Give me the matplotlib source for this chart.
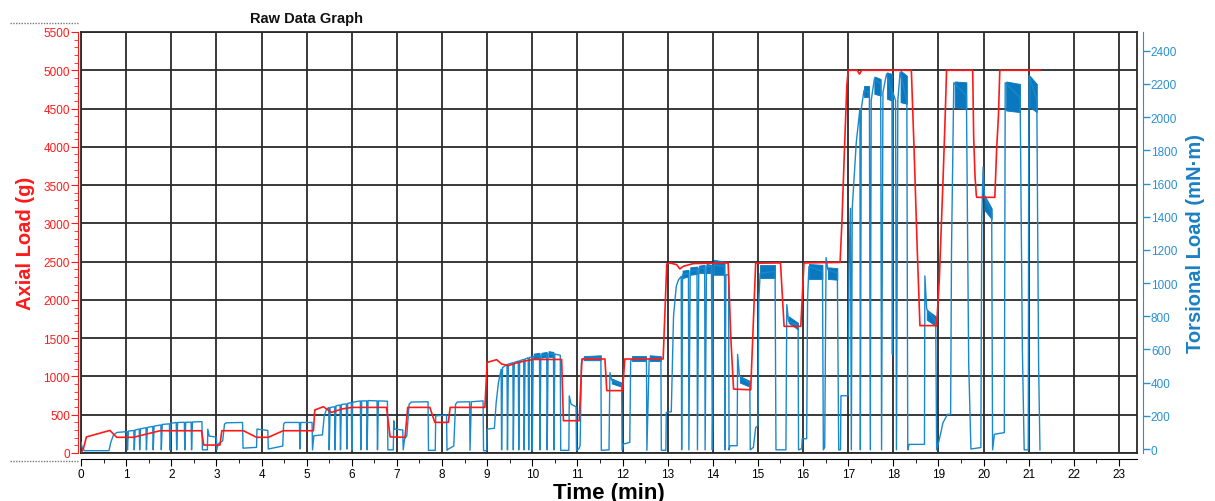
import matplotlib
matplotlib.use("Agg")
import matplotlib.pyplot as plt
from matplotlib.lines import Line2D
from matplotlib.ticker import MultipleLocator

plt.rcParams["font.family"] = ["Liberation Sans", "DejaVu Sans"]

# Axial load (g) against time (min)
axial = [
    (0.00, 0), (0.05, 50), (0.12, 210), (0.64, 295), (0.79, 205), (1.16, 205),
    (1.75, 291), (2.67, 291), (2.72, 104), (3.08, 104), (3.12, 291), (3.60, 291),
    (3.89, 205), (4.15, 205), (4.48, 291), (5.15, 291), (5.18, 562), (5.37, 605),
    (5.55, 530), (5.78, 575), (6.00, 596), (6.77, 596), (6.85, 210), (7.18, 205),
    (7.24, 596), (7.73, 596), (7.84, 400), (8.14, 400), (8.18, 596), (8.95, 596),
    (9.00, 1184), (9.21, 1219), (9.32, 1163), (9.47, 1141), (9.65, 1176), (9.80, 1198),
    (10.02, 1222), (10.65, 1222), (10.69, 422), (11.04, 422), (11.10, 1228),
    (11.61, 1228), (11.65, 815), (12.00, 815), (12.05, 1228), (12.90, 1228),
    (12.98, 2470), (13.05, 2483), (13.20, 2460), (13.27, 2405), (13.35, 2440),
    (13.57, 2475), (14.34, 2483), (14.40, 1500), (14.46, 835), (14.84, 826),
    (14.95, 2480), (15.50, 2483), (15.58, 1655), (15.95, 1655), (16.02, 2483),
    (16.82, 2490), (16.86, 3000), (16.92, 4000), (16.97, 4800), (17.00, 5000),
    (17.20, 5000), (17.25, 4950), (17.30, 5000), (18.40, 5000), (18.46, 3972),
    (18.53, 2666), (18.59, 1664), (18.96, 1664), (19.02, 2274), (19.10, 3537),
    (19.15, 4408), (19.18, 5000), (19.76, 5000), (19.78, 4146), (19.81, 3623),
    (19.84, 3362), (19.85, 3340), (20.25, 3340), (20.29, 3972), (20.33, 4408),
    (20.36, 5000), (21.25, 5000),
]

# Torsional load (mN·m) against time (min), in pieces
torque_0_5 = [
    (0.00, 40), (0.03, 5), (0.08, -10), (0.62, -10), (0.66, 40), (0.72, 85), (0.80, 100),
    (1.02, 105), (1.03, -5), (1.05, 108), (1.17, 112), (1.18, -5), (1.20, 115),
    (1.29, 120), (1.30, -5), (1.32, 122), (1.44, 128), (1.45, -5), (1.47, 130),
    (1.59, 136), (1.60, -5), (1.62, 138), (1.77, 145), (1.78, -5), (1.80, 148),
    (1.96, 152), (1.97, -5), (1.99, 155), (2.11, 160), (2.12, -5), (2.14, 160),
    (2.29, 161), (2.30, -5), (2.32, 161), (2.44, 162), (2.45, -5), (2.47, 163),
    (2.68, 165), (2.69, -5), (2.80, -5), (2.81, 120), (2.84, 78), (3.00, 72),
    (3.01, -5), (3.04, 30), (3.14, 50), (3.18, 150), (3.22, 158), (3.58, 160),
    (3.59, 5), (3.89, 10), (3.90, 120), (4.14, 112), (4.15, 0), (4.47, 18),
    (4.49, 150), (4.52, 160), (4.84, 160), (4.85, 0), (4.87, 160), (5.12, 160),
    (5.13, -5),
]
torque_5_9 = [
    (5.16, 80), (5.35, 85), (5.39, 200), (5.44, 240), (5.49, 250), (5.50, -5), (5.52, 250),
    (5.62, 255), (5.63, -5), (5.65, 260), (5.74, 265), (5.75, -5), (5.77, 268),
    (5.88, 272), (5.89, 0), (5.91, 275), (5.99, 280), (6.00, -10), (6.02, 282),
    (6.19, 290), (6.20, -5), (6.22, 290), (6.33, 290), (6.34, -5), (6.36, 292),
    (6.56, 290), (6.57, -5), (6.59, 290), (6.79, 288), (6.80, -5), (6.92, -5),
    (6.93, 170), (6.95, 120), (7.13, 115), (7.14, -5), (7.17, 60), (7.22, 80),
    (7.27, 270), (7.32, 283), (7.69, 285), (7.70, -8), (7.85, -8), (7.86, 200),
    (8.10, 205), (8.11, -8), (8.14, 0), (8.26, 18), (8.30, 270), (8.34, 283),
    (8.61, 285), (8.62, -8), (8.65, 285), (8.91, 290), (8.92, -10), (8.99, -10),
]
torque_9_13 = [
    (9.00, 120), (9.16, 125), (9.20, 280), (9.25, 400), (9.31, 480), (9.32, -5), (9.34, 490),
    (9.44, 510), (9.45, -5), (9.47, 512), (9.57, 520), (9.58, -5), (9.60, 522),
    (9.69, 530), (9.70, -5), (9.72, 532), (9.81, 540), (9.82, -5), (9.84, 542),
    (9.91, 550), (9.92, -5), (9.94, 552), (9.99, 555), (10.00, -10), (10.02, 556),
    (10.16, 565), (10.17, -5), (10.19, 566), (10.32, 570), (10.33, -5), (10.35, 572),
    (10.47, 575), (10.48, -5), (10.50, 572), (10.62, 565), (10.63, -8), (10.81, -8),
    (10.82, 320), (10.86, 270), (10.97, 255), (10.98, -8), (11.03, 0), (11.06, 20),
    (11.09, 520), (11.13, 545), (11.52, 550), (11.53, -8), (11.70, -5), (11.72, 460),
    (11.76, 415), (11.98, 385), (11.99, -8), (12.02, 30), (12.16, 40), (12.18, 530),
    (12.22, 545), (12.53, 545), (12.54, -8), (12.59, 545), (12.85, 545), (12.86, -8),
    (12.96, -8),
]
torque_13_17 = [
    (12.97, 220), (13.08, 225), (13.13, 800), (13.19, 980), (13.24, 1020), (13.30, 1040),
    (13.31, -5), (13.33, 1050), (13.46, 1060), (13.47, -5), (13.50, 1070), (13.65, 1080),
    (13.66, -5), (13.69, 1090), (13.82, 1090), (13.83, -5), (13.86, 1100), (13.97, 1100),
    (13.99, -5), (14.00, 270), (14.005, 1110), (14.26, 1100), (14.27, -5), (14.29, 1050),
    (14.35, 1050), (14.36, -5), (14.38, 20), (14.54, 20), (14.55, 570), (14.59, 440),
    (14.82, 395), (14.83, -5), (14.90, 10), (14.95, 130), (15.00, 140), (15.02, 900),
    (15.05, 1060), (15.38, 1070), (15.40, -5), (15.62, -5), (15.64, 870), (15.68, 770),
    (15.89, 745), (15.90, -5), (15.97, 2), (15.98, 62), (16.08, 62), (16.10, 900),
    (16.13, 1100), (16.43, 1070), (16.45, -5), (16.48, 10), (16.51, 1154), (16.55, 1080),
    (16.76, 1060), (16.79, -5), (16.83, -5), (16.84, 321), (17.00, 321),
]
torque_17_22 = [
    (17.02, 1100), (17.05, 1450), (17.07, -5), (17.09, 1450), (17.18, 1850), (17.26, 2050),
    (17.27, -5), (17.29, 2050), (17.35, 2160), (17.47, 2150), (17.49, -5), (17.51, 2100),
    (17.58, 2230), (17.72, 2200), (17.74, -5), (17.77, 2150), (17.85, 2260), (17.97, 2150),
    (17.98, 570), (17.99, 2150), (18.05, 2100), (18.07, -5), (18.10, 2100), (18.15, 2270),
    (18.30, 2100), (18.32, -5), (18.35, 28), (18.69, 28), (18.70, 1043), (18.74, 843),
    (18.94, 770), (18.96, -5), (19.02, 58), (19.10, 158), (19.20, 209), (19.27, 209),
    (19.29, 1204), (19.34, 2207), (19.62, 2130), (19.65, 1204), (19.67, 520), (19.72, 0),
    (19.94, 9), (19.96, 1385), (19.99, 1700), (20.02, 1520), (20.18, 1420), (20.20, -5),
    (20.24, 89), (20.46, 99), (20.48, 2207), (20.81, 2120), (20.86, 600), (20.90, -5),
    (20.99, -5), (21.00, 1756), (21.01, 2250), (21.18, 2100), (21.22, 500), (21.25, -5),
]

# Chatter on the loaded plateaus: start, end, low/high at start, low/high at end
chatter = [
    (10.03, 10.16, 545, 575, 550, 580), (10.20, 10.32, 550, 580, 555, 585),
    (10.36, 10.47, 555, 590, 555, 585), (11.14, 11.52, 535, 560, 535, 565),
    (11.76, 11.98, 395, 425, 375, 400), (12.22, 12.53, 530, 560, 530, 560),
    (12.60, 12.85, 530, 565, 530, 560), (13.33, 13.46, 1030, 1075, 1040, 1080),
    (13.50, 13.65, 1050, 1095, 1055, 1100), (13.69, 13.82, 1060, 1105, 1060, 1110),
    (13.86, 13.97, 1060, 1115, 1060, 1110), (14.02, 14.26, 1050, 1140, 1050, 1130),
    (14.60, 14.82, 400, 440, 375, 410), (15.05, 15.38, 1030, 1110, 1030, 1110),
    (15.68, 15.89, 760, 800, 720, 760), (16.13, 16.43, 1025, 1115, 1025, 1110),
    (16.55, 16.76, 1025, 1095, 1020, 1090), (17.35, 17.47, 2120, 2190, 2120, 2190),
    (17.58, 17.72, 2140, 2245, 2130, 2230), (17.86, 17.97, 2110, 2270, 2100, 2260),
    (18.16, 18.30, 2090, 2280, 2080, 2250), (18.74, 18.94, 780, 840, 740, 800),
    (19.36, 19.62, 2060, 2215, 2050, 2210), (20.02, 20.18, 1440, 1530, 1385, 1450),
    (20.50, 20.81, 2040, 2215, 2030, 2200), (21.02, 21.18, 2060, 2250, 2030, 2200),
]

RED = "#ff1a1a"
BLUE = "#1a88cc"
BLUE_DARK = "#0a78bf"
LABEL_BLUE = "#1a80c4"

fig = plt.figure(figsize=(12.15, 5.02), dpi=100)
rect = [81 / 1215, 1 - 454 / 502, (1137 - 81) / 1215, (454 - 33) / 502]
xmax = 23.40

# grid layer behind both data axes
gax = fig.add_axes(rect, zorder=0)
gax.set_xlim(0, xmax)
gax.set_ylim(0, 5500)
gax.xaxis.set_major_locator(MultipleLocator(1))
gax.yaxis.set_major_locator(MultipleLocator(500))
gax.grid(True, color="#2a2a2a", linewidth=1.3)
gax.tick_params(left=False, bottom=False, labelleft=False, labelbottom=False)
for s in gax.spines.values():
    s.set_color("#2a2a2a")
    s.set_linewidth(1.3)

# torsional load axis
ax2 = fig.add_axes(rect, zorder=1)
ax2.patch.set_visible(False)
ax2.set_xlim(0, xmax)
ax2.set_ylim(-24, 2513)
torque = torque_0_5 + torque_5_9 + torque_9_13 + torque_13_17 + torque_17_22
ax2.plot([p[0] for p in torque], [p[1] for p in torque], color=BLUE, lw=1.0)
for t0, t1, lo0, hi0, lo1, hi1 in chatter:
    ax2.fill_between([t0, t1], [lo0, lo1], [hi0, hi1], color=BLUE_DARK, lw=0.6,
                     edgecolor=BLUE_DARK)
ax2.yaxis.tick_right()
ax2.yaxis.set_label_position("right")
ax2.yaxis.set_major_locator(MultipleLocator(200))
ax2.tick_params(axis="y", colors="#2a90d2", labelsize=8.5, length=5, width=1,
                labelcolor="#2a90d2", pad=1)
ax2.tick_params(axis="x", bottom=False, labelbottom=False)
for side in ["left", "top", "bottom"]:
    ax2.spines[side].set_visible(False)
ax2.spines["right"].set_position(("outward", 4))
ax2.spines["right"].set_color("#2a90d2")
ax2.set_ylabel("Torsional Load (mN·m)", color=LABEL_BLUE, fontsize=14.5,
               fontweight="bold", rotation=90, labelpad=6)

# axial load axis on top
ax = fig.add_axes(rect, zorder=2)
ax.patch.set_visible(False)
ax.set_xlim(0, xmax)
ax.set_ylim(0, 5500)
ax.plot([p[0] for p in axial], [p[1] for p in axial], color=RED, lw=1.2)
ax.xaxis.set_major_locator(MultipleLocator(1))
ax.xaxis.set_minor_locator(MultipleLocator(0.5))
ax.yaxis.set_major_locator(MultipleLocator(500))
ax.yaxis.set_minor_locator(MultipleLocator(100))
ax.tick_params(axis="x", which="major", length=5, labelsize=8.5, pad=2)
ax.tick_params(axis="x", which="minor", length=3)
ax.tick_params(axis="y", which="major", colors=RED, length=5, labelsize=8.5, pad=1)
ax.tick_params(axis="y", which="minor", colors=RED, length=3)
for side in ["right", "top"]:
    ax.spines[side].set_visible(False)
ax.spines["left"].set_position(("outward", 2))
ax.spines["left"].set_color(RED)
ax.spines["bottom"].set_position(("outward", 4))
ax.set_ylabel("Axial Load (g)", color=RED, fontsize=14.5, fontweight="bold", labelpad=6)
ax.set_xlabel("Time (min)", fontsize=16, fontweight="bold", labelpad=1)

fig.text(307 / 1215, 1 - 19 / 502, "Raw Data Graph", ha="center", va="center",
         fontsize=10.5, fontweight="bold", color="#111111")

# dotted selection frame round the left axis
fig.add_artist(Line2D([10 / 1215, 79 / 1215], [1 - 24 / 502, 1 - 24 / 502],
                      color="#777777", lw=1, ls=(0, (1, 1))))
fig.add_artist(Line2D([10 / 1215, 79 / 1215], [1 - 462 / 502, 1 - 462 / 502],
                      color="#777777", lw=1, ls=(0, (1, 1))))

fig.savefig("out.png", dpi=100)
